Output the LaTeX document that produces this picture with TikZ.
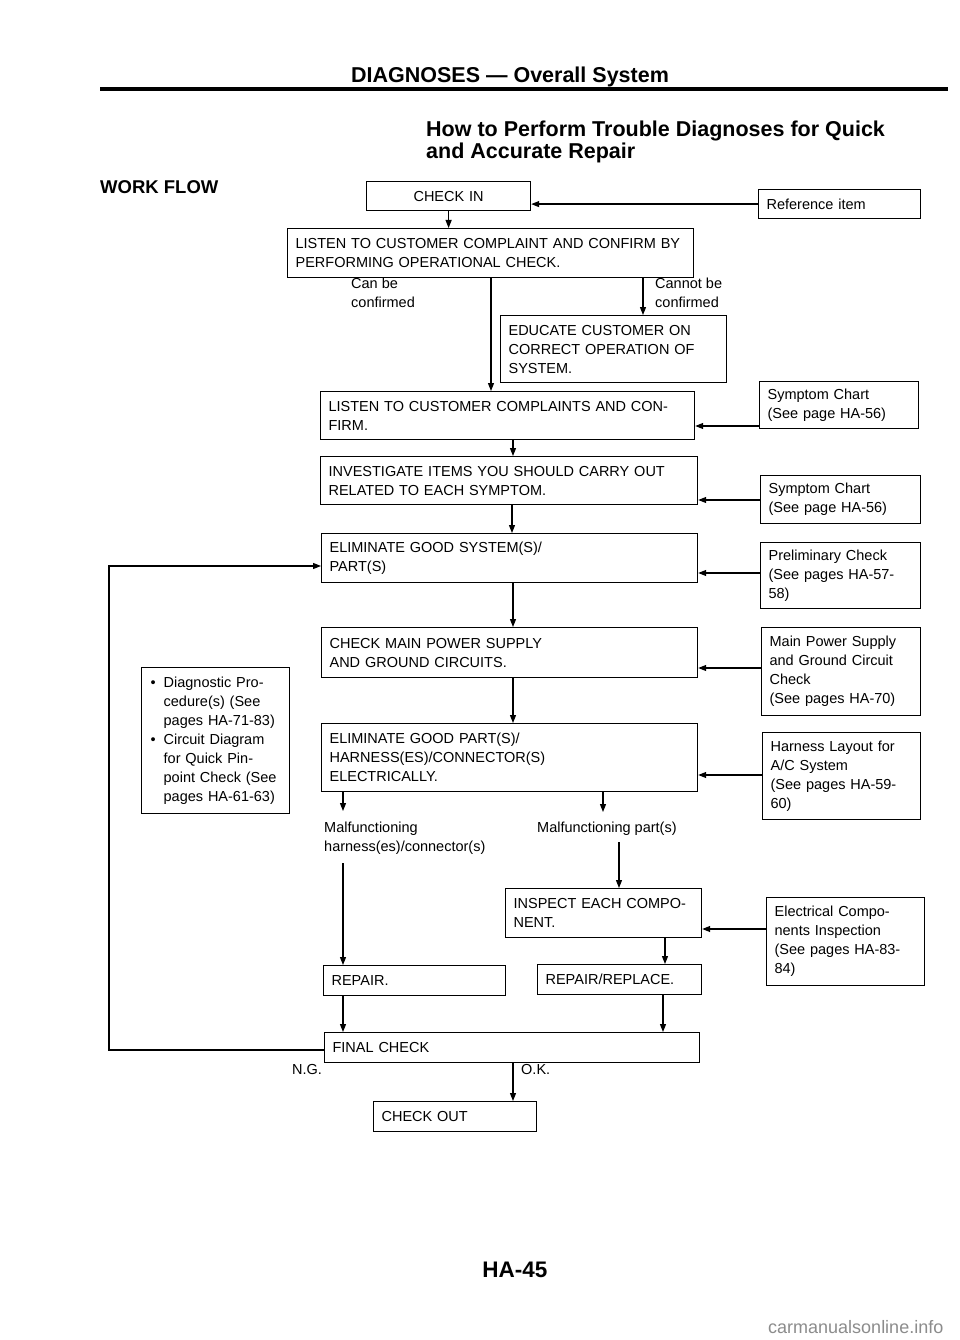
\documentclass[tikz,border=0pt]{standalone}
\usepackage{fontspec}
\setmainfont{Liberation Sans}
\usetikzlibrary{arrows.meta}
\begin{document}
\begin{tikzpicture}[x=1pt,y=1pt,
  every node/.style={font=\fontsize{14.5}{19}\selectfont},
  box/.style={draw, line width=1.2pt, rectangle, anchor=north west, inner xsep=8pt, inner ysep=0pt, align=left},
  arr/.style={line width=1.2pt, -{Triangle[length=8pt,width=6pt]}},
  lbl/.style={inner sep=0pt, anchor=north west, align=left},
  head/.style={inner sep=0pt, font=\fontsize{21.5}{24}\selectfont\bfseries}]
\fill[white] (0,0) rectangle (960,-1340);
\useasboundingbox (0,0) rectangle (960,-1340);

% header
\node[head, anchor=base] (hdr) at (510,-83) {DIAGNOSES --- Overall System};
\draw[line width=3.5pt] (100,-89) -- (948,-89);
\node[head, anchor=base west, align=left] (title1) at (426,-137) {How to Perform Trouble Diagnoses for Quick};
\node[head, anchor=base west, align=left] (title2) at (426,-159) {and Accurate Repair};
\node[inner sep=0pt, anchor=base west, font=\fontsize{18.5}{22}\selectfont\bfseries] (wf) at (100,-194) {WORK FLOW};

% main boxes
\node[box, align=center, text width=148pt, minimum height=29pt] (checkin) at (366,-181) {CHECK IN};
\node[box, text width=146pt, minimum height=29pt] (refitem) at (758,-189) {Reference item};
\node[box, text width=390pt, minimum height=49pt] (listen1) at (287,-228) {LISTEN TO CUSTOMER COMPLAINT AND CONFIRM BY\\PERFORMING OPERATIONAL CHECK.};
\node[box, text width=210pt, minimum height=67pt] (educate) at (500,-315) {EDUCATE CUSTOMER ON\\CORRECT OPERATION OF\\SYSTEM.};
\node[box, text width=358pt, minimum height=48pt] (listen2) at (320,-391) {LISTEN TO CUSTOMER COMPLAINTS AND CON-\\FIRM.};
\node[box, text width=143pt, minimum height=47pt] (symp1) at (759,-381) {Symptom Chart\\(See page HA-56)};
\node[box, text width=361pt, minimum height=48pt] (invest) at (320,-456) {INVESTIGATE ITEMS YOU SHOULD CARRY OUT\\RELATED TO EACH SYMPTOM.};
\node[box, text width=144pt, minimum height=48pt] (symp2) at (760,-475) {Symptom Chart\\(See page HA-56)};
\node[box, text width=360pt, minimum height=49pt] (elimsys) at (321,-533) {ELIMINATE GOOD SYSTEM(S)/\\PART(S)};
\node[box, text width=144pt, minimum height=66pt] (prelim) at (760,-542) {Preliminary Check\\(See pages HA-57-\\58)};
\node[box, text width=360pt, minimum height=50pt] (checkmain) at (321,-627) {CHECK MAIN POWER SUPPLY\\AND GROUND CIRCUITS.};
\node[box, text width=143pt, minimum height=88pt] (mainpow) at (761,-627) {Main Power Supply\\and Ground Circuit\\Check\\(See pages HA-70)};
\node[box, text width=360pt, minimum height=68pt] (elimpart) at (321,-723) {ELIMINATE GOOD PART(S)/\\HARNESS(ES)/CONNECTOR(S)\\ELECTRICALLY.};
\node[box, text width=142pt, minimum height=87pt] (harness) at (762,-732) {Harness Layout for\\A/C System\\(See pages HA-59-\\60)};
\node[draw, line width=1.2pt, anchor=north west, inner sep=0pt, text width=148pt, minimum height=146pt, align=left] (leftbox) at (141,-667)
  {\begin{tabular}{@{\hspace{9pt}}l@{\hspace{8pt}}l@{}}
   \textbullet & Diagnostic Pro-\\
               & cedure(s) (See\\
               & pages HA-71-83)\\
   \textbullet & Circuit Diagram\\
               & for Quick Pin-\\
               & point Check (See\\
               & pages HA-61-63)
   \end{tabular}};
\node[box, text width=180pt, minimum height=49pt] (inspect) at (505,-888) {INSPECT EACH COMPO-\\NENT.};
\node[box, text width=142pt, minimum height=88pt] (elec) at (766,-897) {Electrical Compo-\\nents Inspection\\(See pages HA-83-\\84)};
\node[box, text width=166pt, minimum height=30pt] (repair) at (323,-965) {REPAIR.};
\node[box, text width=148pt, minimum height=30pt] (repairrep) at (537,-964) {REPAIR/REPLACE.};
\node[box, text width=359pt, minimum height=30pt] (final) at (324,-1032) {FINAL CHECK};
\node[box, text width=147pt, minimum height=30pt] (checkout) at (373,-1101) {CHECK OUT};

% labels
\node[lbl] (canbe) at (351,-278) {Can be\\confirmed};
\node[lbl] (cannot) at (655,-278) {Cannot be\\confirmed};
\node[lbl] (malf1) at (324,-822) {Malfunctioning\\harness(es)/connector(s)};
\node[lbl] (malf2) at (537,-822) {Malfunctioning part(s)};
\node[lbl] (ng) at (292,-1064) {N.G.};
\node[lbl] (ok) at (521,-1064) {O.K.};

% connectors
\draw[arr] (checkin.south) -- (checkin.south |- listen1.north);
\draw[arr] (refitem.west) -- (refitem.west -| checkin.east);
\draw[arr] (491,0 |- listen1.south) -- (491,0 |- listen2.north);
\draw[arr] (643,0 |- listen1.south) -- (643,0 |- educate.north);
\draw[arr] (symp1.west |- 0,-426) -- (listen2.east |- 0,-426);
\draw[arr] (513,0 |- listen2.south) -- (513,0 |- invest.north);
\draw[arr] (symp2.west |- 0,-500) -- (invest.east |- 0,-500);
\draw[arr] (512,0 |- invest.south) -- (512,0 |- elimsys.north);
\draw[arr] (prelim.west |- 0,-573) -- (elimsys.east |- 0,-573);
\coordinate (loopb) at (109,-1050);
\coordinate (loopt) at (109,-566);
\draw[arr] (final.west |- loopb) -- (loopb) -- (loopt) -- (elimsys.west |- loopt);
\draw[arr] (513,0 |- elimsys.south) -- (513,0 |- checkmain.north);
\draw[arr] (mainpow.west |- 0,-668) -- (checkmain.east |- 0,-668);
\draw[arr] (513,0 |- checkmain.south) -- (513,0 |- elimpart.north);
\draw[arr] (harness.west |- 0,-775) -- (elimpart.east |- 0,-775);
\coordinate (m1) at (343,-811);
\coordinate (m2) at (603,-812);
\draw[arr] (m1 |- elimpart.south) -- (m1);
\draw[arr] (m2 |- elimpart.south) -- (m2);
\coordinate (h1) at (343,-863);
\coordinate (p1) at (619,-842);
\draw[arr] (h1) -- (h1 |- repair.north);
\draw[arr] (p1) -- (p1 |- inspect.north);
\draw[arr] (elec.west |- 0,-929) -- (inspect.east |- 0,-929);
\draw[arr] (665,0 |- inspect.south) -- (665,0 |- repairrep.north);
\draw[arr] (343,0 |- repair.south) -- (343,0 |- final.north);
\draw[arr] (663,0 |- repairrep.south) -- (663,0 |- final.north);
\draw[arr] (513,0 |- final.south) -- (513,0 |- checkout.north);

% footer
\node[inner sep=0pt, anchor=base, font=\fontsize{22.5}{24}\selectfont\bfseries] (pg) at (515,-1277) {HA-45};
\node[inner sep=0pt, anchor=base west, text=black!45, font=\fontsize{18}{20}\selectfont] (wm) at (768,-1333) {carmanualsonline.info};
\end{tikzpicture}
\end{document}
